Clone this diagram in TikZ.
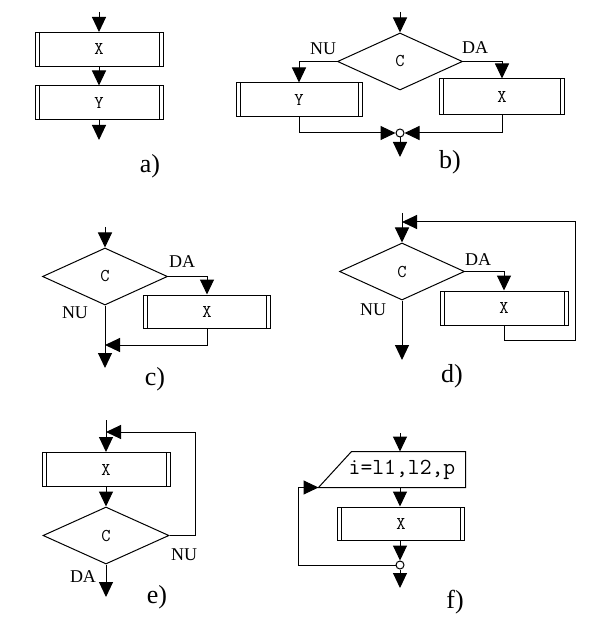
\documentclass[tikz,border=0pt]{standalone}
\usepackage{fontspec}
\setmainfont{Liberation Serif}
\usetikzlibrary{positioning,arrows.meta,calc,shapes.geometric}

\begin{document}
\begin{tikzpicture}[
  x=1pt, y=-1pt,
  line width=1pt,
  flow/.style={-{Triangle[length=15pt,width=14pt]}},
  proc/.style={draw, minimum width=128pt, minimum height=34pt, inner sep=0pt,
    font=\fontsize{18}{20}\ttfamily,
    path picture={
      \draw ([xshift=4pt]path picture bounding box.north west) -- ([xshift=4pt]path picture bounding box.south west);
      \draw ([xshift=-4pt]path picture bounding box.north east) -- ([xshift=-4pt]path picture bounding box.south east);
    }},
  cond/.style={draw, diamond, aspect=2.2, inner sep=0pt, minimum width=125pt, minimum height=57pt,
    font=\fontsize{18}{20}\ttfamily},
  junc/.style={draw, circle, fill=white, inner sep=0pt, minimum size=8pt},
  lbl/.style={font=\fontsize{18}{20}\selectfont},
  tag/.style={font=\fontsize{26}{28}\selectfont}
]
\useasboundingbox (0,0) rectangle (594,617);

% a) sequence
\coordinate (a0) at (99,12);
\node[proc] (ax) at (99,49.5) {X};
\node[proc] (ay) at (99,103) {Y};
\coordinate (a1) at (99,140);
\draw[flow] (a0) -- (ax.north);
\draw[flow] (ax.south) -- (ay.north);
\draw[flow] (ay.south) -- (a1);
\node[tag] (ta) at (150,166) {a)};

% b) two-way branch
\coordinate (b0) at (400,12);
\node[cond] (bc) at (400,61.5) {C};
\node[proc, minimum width=126pt] (by) at (299,100) {Y};
\node[proc, minimum width=125pt, minimum height=36pt] (bx) at (502,97) {X};
\node[junc] (bj) at (400,133) {};
\coordinate (b1) at (400,157);
\draw[flow] (b0) -- (bc.north);
\draw[flow] (bc.west) -| (by.north);
\draw[flow] (bc.east) -| (bx.north);
\draw[flow] (by.south) |- (bj.west);
\draw[flow] (bx.south) |- (bj.east);
\draw[flow] (bj.south) -- (b1);
\node[lbl] (bnu) at (323,49) {NU};
\node[lbl] (bda) at (475,48) {DA};
\node[tag] (tb) at (450,162) {b)};

% c) one-way branch
\coordinate (c0) at (105,227);
\node[cond] (cc) at (105,276.5) {C};
\node[proc, minimum width=127pt, minimum height=33pt] (cx) at (207,311.5) {X};
\coordinate (cm) at (105,345);
\coordinate (c1) at (105,368);
\draw[flow] (c0) -- (cc.north);
\draw[flow] (cc.east) -| (cx.north);
\draw[flow] (cx.south) |- (cm);
\draw[flow] (cc.south) -- (c1);
\node[lbl] (cda) at (182,262) {DA};
\node[lbl] (cnu) at (75,313) {NU};
\node[tag] (tc) at (155,379) {c)};

% d) while loop
\coordinate (d0) at (402,213);
\node[cond] (dc) at (402,271.5) {C};
\node[proc] (dx) at (504,308) {X};
\coordinate (d1) at (402,360);
\coordinate (dr) at (575,340);
\coordinate (dm) at (402,222);
\draw[flow] (d0) -- (dc.north);
\draw[flow] (dc.east) -| (dx.north);
\draw[flow] (dc.south) -- (d1);
\draw[flow] (dx.south) |- (dr) |- (dm);
\node[lbl] (dda) at (478,260) {DA};
\node[lbl] (dnu) at (373,310) {NU};
\node[tag] (td) at (452,376) {d)};

% e) repeat loop
\coordinate (e0) at (106,420);
\node[proc] (ex) at (106,469.5) {X};
\node[cond, minimum width=126pt] (ec) at (106,535.5) {C};
\coordinate (e1) at (106,597);
\coordinate (er) at (195,432);
\coordinate (em) at (106,432);
\draw[flow] (e0) -- (ex.north);
\draw[flow] (ex.south) -- (ec.north);
\draw[flow] (ec.south) -- (e1);
\draw[flow] (ec.east) -| (er) -- (em);
\node[lbl] (enu) at (184,555) {NU};
\node[lbl] (eda) at (83,577) {DA};
\node[tag] (te) at (157,597) {e)};

% f) counted loop
\coordinate (f0) at (400,433);
\node[minimum width=126pt, minimum height=35pt, inner sep=0pt,
  font=\fontsize{23}{25}\ttfamily] (fl) at (402,469.5) {i=l1,l2,p};
\coordinate (fc) at ([xshift=-20pt]fl.south west);
\draw (fc) -- ([xshift=13pt]fl.north west) -- (fl.north east) -- (fl.south east) -- cycle;
\node[proc, minimum width=127pt, minimum height=33pt] (fx) at (401,523.5) {X};
\node[junc] (fj) at (400,565) {};
\coordinate (f1) at (400,588);
\coordinate (fr) at ([xshift=-20pt]fc);
\draw[flow] (f0) -- (f0 |- fl.north);
\draw[flow] (f0 |- fl.south) -- (f0 |- fx.north);
\draw[flow] (f0 |- fx.south) -- (fj.north);
\draw[flow] (fj.south) -- (f1);
\draw[flow] (fj.west) -| (fr) -- (fc);
\node[tag] (tf) at (455,602) {f)};
\end{tikzpicture}
\end{document}
